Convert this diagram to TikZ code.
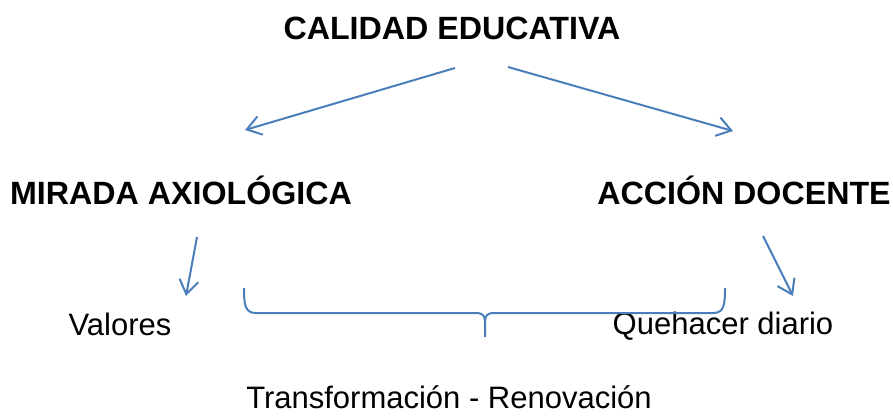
\documentclass[tikz,border=0pt]{standalone}
\usepackage{fontspec}
\setmainfont{Liberation Sans}
\usetikzlibrary{arrows.meta}
\definecolor{lineblue}{RGB}{74,126,187}
\begin{document}
\begin{tikzpicture}[x=1pt,y=-1pt,
  lbl/.style={anchor=base,inner sep=0pt,font=\fontsize{31}{36}\selectfont},
  hdr/.style={anchor=base,inner sep=0pt,font=\fontsize{32.2}{37}\selectfont\bfseries},
  conn/.style={draw=lineblue,line width=2pt,-{Straight Barb[length=14pt,width=19pt,line width=2pt]}},
  bracepath/.style={draw=lineblue,line width=2pt}]
\useasboundingbox (0,0) rectangle (893,415);
\node[hdr] (cal) at (452,39) {CALIDAD EDUCATIVA};
\node[hdr] (mir) at (181,204) {MIRADA AXIOLÓGICA};
\node[hdr] (acc) at (744,204) {ACCIÓN DOCENTE};
\node[lbl] (val) at (120,335) {Valores};
\node[lbl] (que) at (723,334) {Quehacer diario};
\node[lbl] (tra) at (449,408) {Transformación - Renovación};
\coordinate (a1s) at (455,68);
\coordinate (a1e) at (245,130);
\coordinate (a2s) at (508,67);
\coordinate (a2e) at (733,131);
\coordinate (a3s) at (197,237);
\coordinate (a3e) at (186,296);
\coordinate (a4s) at (763,236);
\coordinate (a4e) at (793,296);
\draw[conn] (a1s) -- (a1e);
\draw[conn] (a2s) -- (a2e);
\draw[conn] (a3s) -- (a3e);
\draw[conn] (a4s) -- (a4e);
\coordinate (bl) at (244,288);
\coordinate (br) at (725,288);
\coordinate (bt) at (485,337);
\draw[bracepath] (bl) .. controls (244,305) and (245,313) .. (256,313)
  -- (476,313) .. controls (483,313) and (485,316) .. (485,322) -- (bt);
\draw[bracepath] (br) .. controls (725,305) and (724,313) .. (713,313)
  -- (494,313) .. controls (487,313) and (485,316) .. (485,322);
\end{tikzpicture}
\end{document}
